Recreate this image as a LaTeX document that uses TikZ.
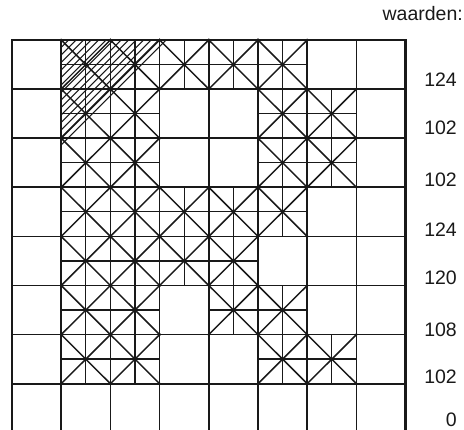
\documentclass[tikz,border=0pt]{standalone}
\usepackage{fontspec}
\setmainfont{Liberation Sans}
\begin{document}
\begin{tikzpicture}[x=1pt,y=-1pt,
  gridline/.style={line width=1.7pt,black!90},
  frameline/.style={line width=2.6pt,black!90},
  diagline/.style={line width=1.5pt,black!90},
  midline/.style={line width=1.3pt,black!90},
  hatchline/.style={line width=1.1pt,black!90},
  lab/.style={font=\fontsize{19.5}{20}\selectfont,inner sep=0pt,anchor=base east,text=black!90}]
\useasboundingbox (0,0) rectangle (464,430);
\begin{scope}
\clip (0,0) rectangle (464,430);
\def\cw{49.2}\def\ch{49.1}\def\ox{12}\def\oy{40}
% hatching (top-left triangle)
\foreach \s in {7.5,15,...,105} {
  \draw[hatchline] (61.2,40+\s) -- (61.2+\s,40);
}
% set cells
\foreach \r/\c in {0/1,0/2,0/3,0/4,0/5,
                   1/1,1/2,1/5,1/6,
                   2/1,2/2,2/5,2/6,
                   3/1,3/2,3/3,3/4,3/5,
                   4/1,4/2,4/3,4/4,
                   5/1,5/2,5/4,5/5,
                   6/1,6/2,6/5,6/6} {
  \pgfmathsetmacro\xa{\ox+\c*\cw}
  \pgfmathsetmacro\xb{\ox+(\c+1)*\cw}
  \pgfmathsetmacro\xm{\ox+(\c+0.5)*\cw}
  \pgfmathsetmacro\ya{\oy+\r*\ch}
  \pgfmathsetmacro\yb{\oy+(\r+1)*\ch}
  \pgfmathsetmacro\ym{\oy+(\r+0.5)*\ch}
  \draw[diagline] (\xa,\ya) -- (\xb,\yb) (\xa,\yb) -- (\xb,\ya);
  \draw[midline] (\xm,\ya) -- (\xm,\yb) (\xa,\ym) -- (\xb,\ym);
  \fill[black!90] (\xm,\ym) circle (1.7) (\xa,\ya) circle (1.5) (\xb,\ya) circle (1.5)
                  (\xa,\yb) circle (1.5) (\xb,\yb) circle (1.5);
}
% grid
\foreach \i in {1,...,7} {
  \pgfmathsetmacro\gx{\ox+\i*\cw}
  \pgfmathsetmacro\gy{\oy+\i*\ch}
  \draw[gridline] (\gx,\oy) -- (\gx,440);
  \draw[gridline] (\ox,\gy) -- (405.6,\gy);
}
% frame
\draw[frameline] (\ox,440) -- (\ox,\oy) -- (405.6,\oy) -- (405.6,440);
\end{scope}
% labels
\node[lab] (title) at (463,21) {waarden:};
\node[lab] (v0) at (457,86.5) {124};
\node[lab] (v1) at (457,134.5) {102};
\node[lab] (v2) at (457,186.5) {102};
\node[lab] (v3) at (457,236.5) {124};
\node[lab] (v4) at (457,284.5) {120};
\node[lab] (v5) at (457,336.5) {108};
\node[lab] (v6) at (457,383.5) {102};
\node[lab] (v7) at (457,426.5) {0};
\end{tikzpicture}
\end{document}
